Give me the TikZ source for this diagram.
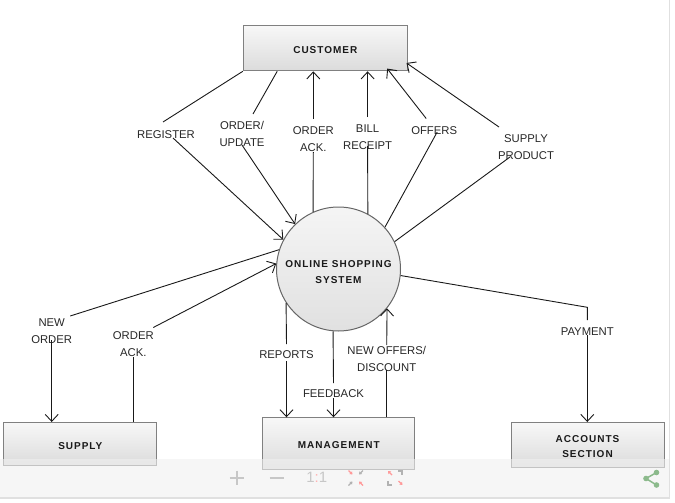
\documentclass[tikz,border=0pt]{standalone}
\usepackage{fontspec}
\setmainfont{Liberation Sans}
\newfontfamily\boxfont[LetterSpace=10]{Liberation Sans}
\usetikzlibrary{arrows.meta}

\begin{document}
\begin{tikzpicture}[x=1pt,y=1pt,
  every node/.append style={inner sep=0pt},
  entity/.style={draw=black!50,line width=1pt,top color=black!3,bottom color=black!14,font=\boxfont\bfseries\fontsize{10}{15.5}\selectfont,text=black!90,align=center,text height=10.4pt},
  process/.style={circle,draw=black!60,line width=1pt,top color=black!4,bottom color=black!12,minimum size=124pt,font=\boxfont\bfseries\fontsize{10}{16}\selectfont,text=black!90,align=center,text height=29.3pt},
  lbl/.style={font=\fontsize{11.3}{17}\selectfont,text=black!85,align=center},
  link/.style={black!90,line width=0.9pt},
  flow/.style={black!90,line width=0.9pt,-{Straight Barb[length=7pt,width=13pt]}},
  tiny/.style={line width=1.2pt,-{Triangle[length=2.5pt,width=3.5pt]}}]
\useasboundingbox (0,0) rectangle (675,-503);
\node[entity,minimum width=164pt,minimum height=45pt] (customer) at (325.3,-48.3) {CUSTOMER};
\node[process] (sys) at (338.5,-269) {ONLINE SHOPPING\\SYSTEM};
\node[entity,minimum width=153pt,minimum height=43pt] (supply) at (80.3,-444) {SUPPLY};
\node[entity,minimum width=152pt,minimum height=52pt] (mgmt) at (338.8,-443.8) {MANAGEMENT};
\node[entity,minimum width=153pt,minimum height=45pt,text height=25.5pt] (accounts) at (587.5,-445) {ACCOUNTS\\SECTION};
\node[lbl] (lbReg) at (166,-135) {REGISTER};
\node[lbl] (lbOrdUpd) at (242,-134) {ORDER/\\UPDATE};
\node[lbl] (lbOrdAck) at (313.3,-139) {ORDER\\ACK.};
\node[lbl] (lbBill) at (367.6,-137) {BILL\\RECEIPT};
\node[lbl] (lbOffers) at (434.2,-131) {OFFERS};
\node[lbl] (lbSupProd) at (526,-147) {SUPPLY\\PRODUCT};
\node[lbl] (lbNewOrd) at (51.7,-331) {NEW\\ORDER};
\node[lbl] (lbOrdAck2) at (133.3,-344.5) {ORDER\\ACK.};
\node[lbl] (lbReports) at (286.5,-355) {REPORTS};
\node[lbl] (lbNewOff) at (386.7,-358.5) {NEW OFFERS/\\DISCOUNT};
\node[lbl] (lbFeed) at (333.5,-394) {FEEDBACK};
\node[lbl] (lbPay) at (587.3,-332) {PAYMENT};
\coordinate (payBend) at (587.3,-307.3);
\draw[link] (customer.south west) -- ([shift={(-3,13)}]lbReg.center);
\draw[flow] ([shift={(7,-3)}]lbReg.center) -- (sys.152);
\draw[link] ([xshift=34.4pt]customer.south west) -- ([shift={(11,20)}]lbOrdUpd.center);
\draw[flow] ([yshift=-11pt]lbOrdUpd.center) -- (sys.134);
\draw[link] (sys.114) -- ([yshift=-13pt]lbOrdAck.center);
\draw[flow] ([yshift=20pt]lbOrdAck.center) -- (lbOrdAck |- customer.south);
\draw[link] (sys.62) -- ([yshift=-9pt]lbBill.center);
\draw[flow] ([yshift=20pt]lbBill.center) -- (lbBill |- customer.south);
\draw[link] (sys.42) -- ([shift={(3,-1)}]lbOffers.center);
\draw[flow] ([shift={(-8,12.5)}]lbOffers.center) -- ([shift={(-20.6,2.7)}]customer.south east);
\draw[link] (sys.26) -- ([shift={(-16,-10)}]lbSupProd.center);
\draw[flow] ([shift={(-27,20)}]lbSupProd.center) -- ([shift={(-1.3,8.3)}]customer.south east);
\draw[link] (sys.162) -- ([shift={(18.5,15)}]lbNewOrd.center);
\draw[flow] ([yshift=-9pt]lbNewOrd.center) -- (lbNewOrd |- supply.north);
\draw[link] (supply.north -| lbOrdAck2) -- ([yshift=-12pt]lbOrdAck2.center);
\draw[flow] ([shift={(20,17)}]lbOrdAck2.center) -- (sys.175);
\draw[link] (sys.213) -- ([yshift=11pt]lbReports.center);
\draw[flow] ([yshift=-6pt]lbReports.center) -- (lbReports |- mgmt.north);
\draw[link] (sys.265) -- ([yshift=11pt]lbFeed.center);
\draw[flow] ([yshift=-4pt]lbFeed.center) -- (lbFeed |- mgmt.north);
\draw[link] (mgmt.north -| lbNewOff) -- ([yshift=-11.5pt]lbNewOff.center);
\draw[flow] ([yshift=13.5pt]lbNewOff.center) -- (sys.321);
\draw[link] (sys.354) -- (payBend) -- ([yshift=12pt]lbPay.center);
\draw[flow] ([yshift=-3pt]lbPay.center) -- (lbPay |- accounts.north);
\fill[black!6,fill opacity=0.6] (0,-458.8) rectangle (669.3,-498);
\draw[black!12,line width=1.5pt] (669.3,0) -- (669.3,-498) -- (0,-498);
\draw[black!22,line width=2pt] (229.7,-477.7) -- (243.7,-477.7) (236.7,-470.7) -- (236.7,-484.7);
\draw[black!22,line width=2pt] (269.7,-477.7) -- (283.7,-477.7);
\node[font=\fontsize{15}{15}\selectfont,text=black!22] (oneone) at (316.7,-477.7) {1{\color{red!30}:}1};
\draw[tiny,red!40] (348.5,-470.5) -- (352.5,-474.5);
\draw[tiny,black!30] (363,-470.5) -- (359,-474.5);
\draw[tiny,black!30] (348.5,-485.5) -- (352.5,-481.5);
\draw[tiny,red!40] (363,-485.5) -- (359,-481.5);
\draw[tiny,red!40] (392,-475) -- (388,-471);
\draw[black!30,line width=1.2pt] (398,-471) -- (402,-471) -- (402,-475);
\draw[black!30,line width=1.2pt] (388,-481) -- (388,-485) -- (392,-485);
\draw[tiny,red!40] (398.5,-481) -- (402.5,-485);
\draw[green!40!black!45!white,line width=1.5pt] (656.5,-472.5) -- (646,-478.5) -- (656.5,-485);
\fill[green!40!black!45!white] (646,-478.5) circle (2.8) (656.5,-472.5) circle (2.8) (656.5,-485) circle (2.8);
\end{tikzpicture}
\end{document}
